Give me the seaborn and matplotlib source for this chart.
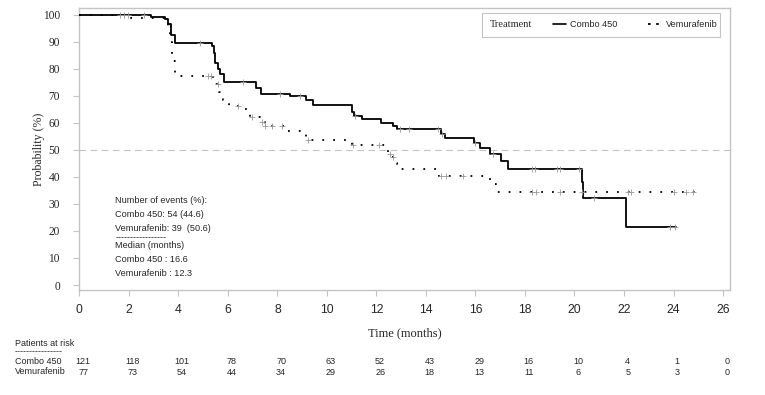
import numpy as np
import pandas as pd
import matplotlib
matplotlib.use("Agg")
import matplotlib.pyplot as plt
from matplotlib.lines import Line2D
from matplotlib.patches import Rectangle
import seaborn as sns

# KM steps (time in months, survival in %)
combo_t = [0, 2.9, 3.45, 3.6, 3.7, 3.87, 5.35, 5.45, 5.5, 5.6, 5.7, 5.85, 7.15, 7.35,
           8.5, 9.15, 9.45, 11.0, 11.1, 11.4, 12.2, 12.65, 12.85, 14.6, 14.75, 15.95,
           16.2, 16.6, 17.05, 17.3, 20.3, 20.35, 22.1, 24.1]
combo_s = [100, 99.2, 98.3, 96.5, 92.5, 89.5, 88.5, 86, 82, 80, 78, 75, 73, 70.7,
           70.0, 68.5, 66.7, 64, 62.7, 61.4, 59.9, 58.7, 57.6, 56, 54.5, 52.6,
           50.7, 48.6, 45.8, 43.1, 38, 32.2, 21.5, 21.5]

vemu_t = [0, 2.1, 3.6, 3.68, 3.75, 3.85, 5.4, 5.5, 5.65, 5.8, 6.05, 6.45, 6.9, 7.3,
          7.5, 8.4, 9.15, 11.0, 12.45, 12.6, 12.75, 12.85, 14.5, 16.6, 16.85, 24.9]
vemu_s = [100, 98.7, 96, 90, 83, 77.4, 76, 74.4, 71.3, 68.3, 66.4, 65.2, 62.1, 60.3,
          58.7, 57.1, 53.5, 51.7, 48.6, 47.4, 45, 42.8, 40.5, 37.5, 34.4, 34.4]

# censoring marks
combo_cens_t = [1.64, 1.82, 1.98, 2.61, 4.87, 6.6, 8.1, 8.9, 11.15, 12.95, 13.3, 14.5,
                14.65, 16.0, 16.7, 18.27, 18.4, 19.28, 19.4, 20.2, 20.8, 23.85, 24.05]
combo_cens_s = [100, 100, 100, 100, 89.5, 75, 70.7, 70.0, 62.7, 57.6, 57.6, 57.6,
                56, 52.6, 48.6, 43.1, 43.1, 43.1, 43.1, 43.1, 32.2, 21.5, 21.5]
vemu_cens_t = [5.2, 5.3, 5.6, 6.4, 6.96, 7.37, 7.5, 7.8, 8.2, 9.25, 11.05, 12.1, 12.55,
               12.67, 14.6, 14.8, 15.5, 18.3, 18.45, 19.4, 20.3, 22.15, 22.3, 24.0,
               24.5, 24.8]
vemu_cens_s = [77.4, 77.4, 74.4, 66.4, 62.1, 60.3, 58.7, 58.7, 58.7, 53.5, 51.7, 51.7,
               48.6, 47.4, 40.5, 40.5, 40.5, 34.4, 34.4, 34.4, 34.4, 34.4, 34.4, 34.4,
               34.4, 34.4]

groups = ["Combo 450", "Vemurafenib"]
risk_times = list(range(0, 27, 2))
risk_combo = [121, 118, 101, 78, 70, 63, 52, 43, 29, 16, 10, 4, 1, 0]
risk_vemu = [77, 73, 54, 44, 34, 29, 26, 18, 13, 11, 6, 5, 3, 0]

info_lines = ["Number of events (%):", "Combo 450: 54 (44.6)", "Vemurafenib: 39  (50.6)",
              "-" * 17, "Median (months)", "Combo 450 : 16.6", "Vemurafenib : 12.3"]

df = pd.concat([
    pd.DataFrame({"time": combo_t, "surv": combo_s, "group": groups[0]}),
    pd.DataFrame({"time": vemu_t, "surv": vemu_s, "group": groups[1]}),
])
cens = pd.concat([
    pd.DataFrame({"time": combo_cens_t, "surv": combo_cens_s, "group": groups[0]}),
    pd.DataFrame({"time": vemu_cens_t, "surv": vemu_cens_s, "group": groups[1]}),
])

sns.set_style("white")
plt.rcParams["font.family"] = ["Liberation Sans", "DejaVu Sans"]
serif = ["Liberation Serif", "DejaVu Serif"]
grey = "#c4c4c4"

fig = plt.figure(figsize=(7.65, 3.95), dpi=100)
ax = fig.add_axes([0.1037, 0.2658, 0.8505, 0.7139])

ax.axhline(50, color=grey, lw=0.8, dashes=(6, 4), zorder=1)
sns.lineplot(data=df, x="time", y="surv", style="group", color="black",
             dashes={groups[0]: "", groups[1]: (1, 5)}, drawstyle="steps-post",
             estimator=None, sort=False, linewidth=1.3, legend=False, ax=ax, zorder=3)
sns.scatterplot(data=cens, x="time", y="surv", marker="+", color="#999999",
                s=20, linewidth=0.6, legend=False, ax=ax, zorder=4)

ax.set_xlim(0, 26.28)
ax.set_ylim(-1.85, 102.5)
ax.set_xticks(risk_times)
ax.set_yticks(range(0, 101, 10))
for sp in ax.spines.values():
    sp.set_color(grey)
    sp.set_linewidth(1.0)
ax.tick_params(axis="x", direction="out", length=4, width=0.8, color=grey,
               pad=6, labelsize=8.8)
ax.tick_params(axis="y", direction="out", length=4, width=0.8, color=grey,
               pad=10, labelsize=8.3)
ax.tick_params(bottom=True, left=True)
for lab in ax.get_yticklabels():
    lab.set_fontfamily(serif)

ax.set_xlabel("Time (months)", family=serif, fontsize=9, labelpad=8)
ax.set_ylabel("Probability (%)", family=serif, fontsize=8.6)
ax.yaxis.set_label_coords(-0.052, 0.5)

# legend box
ax.add_patch(Rectangle((0.619, 0.897), 0.366, 0.085, transform=ax.transAxes,
                       fill=False, edgecolor=grey, lw=0.8, zorder=5))
ax.text(0.631, 0.94, "Treatment", transform=ax.transAxes, family=serif,
        fontsize=7.5, va="center", ha="left")
handles = [Line2D([], [], color="black", lw=1.2),
           Line2D([], [], color="black", lw=1.3, dashes=(1.5, 3))]
ax.legend(handles, groups, loc="center left", bbox_to_anchor=(0.728, 0.94),
          ncol=2, frameon=False, fontsize=6.6, handlelength=1.4,
          handletextpad=0.5, columnspacing=3.35, borderpad=0, borderaxespad=0)

# events / median box, one line at a time (px offsets from the first line)
line_off = [0, 14, 28, 37, 45, 59, 73]
for txt, off in zip(info_lines, line_off):
    ax.annotate(txt, xy=(1.45, 31.4), xytext=(0, -off * 0.72),
                textcoords="offset points", fontsize=6.6, va="center", ha="left")

# patients at risk table
xt = ax.get_xaxis_transform()
fig.text(0.0196, 1 - 344 / 395, "Patients at risk", fontsize=6.5, va="center")
fig.text(0.0196, 1 - 352 / 395, "-" * 16, fontsize=6.5, va="center")
fig.text(0.0196, 1 - 362 / 395, groups[0], fontsize=6.5, va="center")
fig.text(0.0196, 1 - 372 / 395, groups[1], fontsize=6.5, va="center")
for t, a, b in zip(risk_times, risk_combo, risk_vemu):
    ax.text(t + 0.15, -0.255, str(a), transform=xt, fontsize=6.5, ha="center",
            va="center")
    ax.text(t + 0.15, -0.291, str(b), transform=xt, fontsize=6.5, ha="center",
            va="center")

fig.savefig("out.png", dpi=100)
